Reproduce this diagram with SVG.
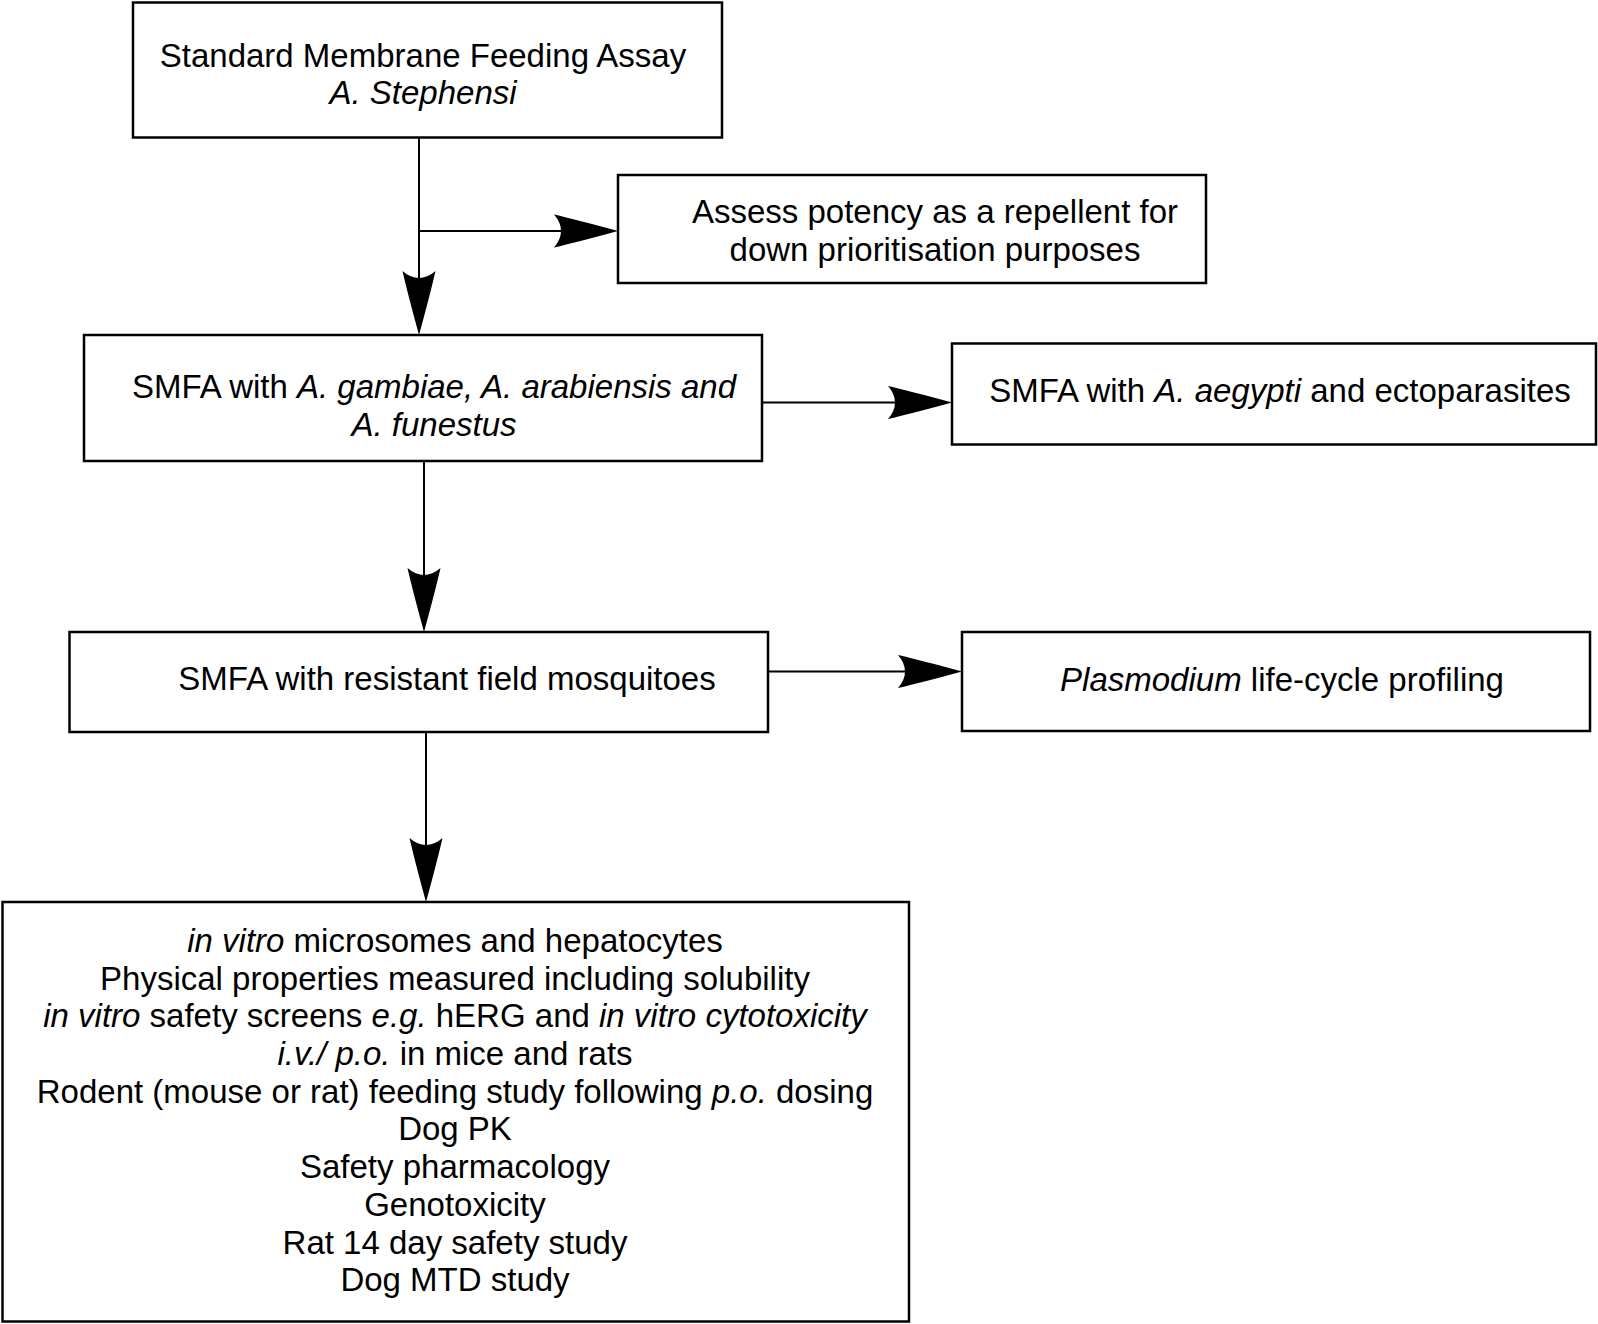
<svg xmlns="http://www.w3.org/2000/svg" width="1598" height="1324" viewBox="0 0 1598 1324">
<style>
.box{fill:#fff;stroke:#000;stroke-width:2.5}
.t{font-family:"Liberation Sans",Arial,sans-serif;font-size:33px;fill:#000;text-anchor:middle}
.i{font-style:italic}
.c{stroke:#000;stroke-width:2;fill:none;marker-end:url(#ah)}
</style>
<defs>
<marker id="ah" markerUnits="userSpaceOnUse" markerWidth="70" markerHeight="36" refX="24" refY="16.5" orient="auto" viewBox="0 0 70 36" overflow="visible">
<path d="M0,0 Q22,5 64,16.5 Q22,28 0,33 Q7,25 7,16.5 Q7,8 0,0 Z" fill="#000"/>
</marker>
</defs>
<rect width="1598" height="1324" fill="#fff"/>
<g id="connectors">
<path class="c" d="M419,138 V295"/>
<path class="c" d="M419,231 H578"/>
<path class="c" d="M762,402.5 H912"/>
<path class="c" d="M424,461 V592"/>
<path class="c" d="M768,671.5 H922"/>
<path class="c" d="M426,732 V862"/>
</g>
<g id="n1">
<rect class="box" x="133" y="2.5" width="589" height="135"/>
<text class="t" x="423" y="67">Standard Membrane Feeding Assay</text>
<text class="t i" x="423" y="104">A. Stephensi</text>
</g>
<g id="n2">
<rect class="box" x="618" y="175" width="588" height="108"/>
<text class="t" x="935" y="223">Assess potency as a repellent for</text>
<text class="t" x="935" y="261">down prioritisation purposes</text>
</g>
<g id="n3">
<rect class="box" x="84" y="335" width="678" height="126"/>
<text class="t" x="434" y="398">SMFA with <tspan class="i">A. gambiae, A. arabiensis and</tspan></text>
<text class="t i" x="434" y="436">A. funestus</text>
</g>
<g id="n4">
<rect class="box" x="952" y="343.5" width="644" height="101"/>
<text class="t" x="1280" y="402">SMFA with <tspan class="i">A. aegypti</tspan> and ectoparasites</text>
</g>
<g id="n5">
<rect class="box" x="69.5" y="632" width="698.5" height="100"/>
<text class="t" x="447" y="690">SMFA with resistant field mosquitoes</text>
</g>
<g id="n6">
<rect class="box" x="962" y="632" width="628" height="99"/>
<text class="t" x="1282" y="691"><tspan class="i">Plasmodium</tspan> life-cycle profiling</text>
</g>
<g id="n7">
<rect class="box" x="2.5" y="902" width="906.5" height="419.5"/>
<text class="t" x="455" y="952"><tspan class="i">in vitro</tspan> microsomes and hepatocytes</text>
<text class="t" x="455" y="989.5">Physical properties measured including solubility</text>
<text class="t" x="455" y="1027"><tspan class="i">in vitro</tspan> safety screens <tspan class="i">e.g.</tspan> hERG and <tspan class="i">in vitro cytotoxicity</tspan></text>
<text class="t" x="455" y="1065"><tspan class="i">i.v./ p.o.</tspan> in mice and rats</text>
<text class="t" x="455" y="1102.5">Rodent (mouse or rat) feeding study following <tspan class="i">p.o.</tspan> dosing</text>
<text class="t" x="455" y="1140">Dog PK</text>
<text class="t" x="455" y="1178">Safety pharmacology</text>
<text class="t" x="455" y="1216">Genotoxicity</text>
<text class="t" x="455" y="1253.5">Rat 14 day safety study</text>
<text class="t" x="455" y="1291">Dog MTD study</text>
</g>
</svg>
